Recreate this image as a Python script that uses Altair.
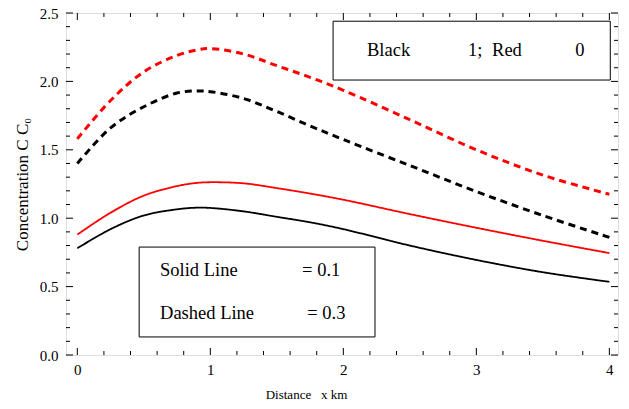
import altair as alt
import pandas as pd

# ---- data ----
x_vals = [0, 0.25, 0.5, 0.75, 0.9, 1.0, 1.25, 1.5, 1.75, 2.0, 2.5, 3.0, 3.5, 4.0]
red_dashed = [1.58, 1.86, 2.07, 2.19, 2.23, 2.24, 2.20, 2.115, 2.03, 1.935, 1.72, 1.50, 1.315, 1.175]
black_dashed = [1.40, 1.66, 1.815, 1.915, 1.93, 1.925, 1.875, 1.78, 1.675, 1.575, 1.385, 1.195, 1.02, 0.86]
red_solid = [0.88, 1.04, 1.165, 1.235, 1.258, 1.263, 1.255, 1.22, 1.18, 1.135, 1.03, 0.93, 0.835, 0.745]
black_solid = [0.78, 0.92, 1.02, 1.065, 1.077, 1.075, 1.05, 1.01, 0.97, 0.92, 0.80, 0.695, 0.605, 0.535]

x_major = [0, 1, 2, 3, 4]
x_minor = [0.2, 0.4, 0.6, 0.8, 1.2, 1.4, 1.6, 1.8, 2.2, 2.4, 2.6, 2.8, 3.2, 3.4, 3.6, 3.8]
y_major = [0.0, 0.5, 1.0, 1.5, 2.0, 2.5]
y_minor = [0.1, 0.2, 0.3, 0.4, 0.6, 0.7, 0.8, 0.9, 1.1, 1.2, 1.3, 1.4, 1.6, 1.7, 1.8, 1.9, 2.1, 2.2, 2.3, 2.4]

series = {
    "red_dashed": (red_dashed, "red", "dashed"),
    "black_dashed": (black_dashed, "black", "dashed"),
    "red_solid": (red_solid, "red", "solid"),
    "black_solid": (black_solid, "black", "solid"),
}

rows = []
for name, (vals, col, sty) in series.items():
    for xv, yv in zip(x_vals, vals):
        rows.append({"x": xv, "y": yv, "series": name, "color": col, "style": sty})
df = pd.DataFrame(rows)

W, H = 552, 342
FONT = "Liberation Serif"
xs = alt.Scale(domain=[-0.085, 4.065], nice=False, zero=False)
ys = alt.Scale(domain=[0, 2.5], nice=False)

base_x = alt.X("x:Q", scale=xs, title="Distance\u00a0\u00a0\u00a0x km",
               axis=alt.Axis(values=x_major, format="d", ticks=False, domain=False, grid=False,
                             labelFont=FONT, labelFontSize=15, labelColor="black", labelPadding=7,
                             titleFont=FONT, titleFontSize=13, titleFontWeight="normal",
                             titleColor="black", titlePadding=11, titleX=240, titleAlign="center"))
base_y = alt.Y("y:Q", scale=ys, title="Concentration C\u00a0C₀",
               axis=alt.Axis(values=y_major, format=".1f", ticks=False, domain=False, grid=False,
                             labelFont=FONT, labelFontSize=15, labelColor="black", labelPadding=8,
                             titleFont=FONT, titleFontSize=17, titleFontWeight="normal",
                             titleColor="black", titlePadding=8))

lines = alt.Chart(df).mark_line(interpolate="catmull-rom").encode(
    x=base_x,
    y=base_y,
    detail="series:N",
    color=alt.Color("color:N", scale=None),
    strokeDash=alt.StrokeDash("style:N", scale=alt.Scale(domain=["dashed", "solid"], range=[[7, 5], [1, 0]]), legend=None),
    strokeWidth=alt.StrokeWidth("style:N", scale=alt.Scale(domain=["dashed", "solid"], range=[3, 1.8]), legend=None),
    order="x:Q",
)

def xticks(vals, length):
    d = pd.DataFrame({"t": vals})
    bot = alt.Chart(d).mark_rule(color="black", strokeWidth=1).encode(
        x=alt.X("t:Q", scale=xs), y=alt.value(H), y2=alt.value(H - length))
    top = alt.Chart(d).mark_rule(color="black", strokeWidth=1).encode(
        x=alt.X("t:Q", scale=xs), y=alt.value(0), y2=alt.value(length))
    return bot + top

def yticks(vals, length):
    d = pd.DataFrame({"t": vals})
    left = alt.Chart(d).mark_rule(color="black", strokeWidth=1).encode(
        y=alt.Y("t:Q", scale=ys), x=alt.value(0), x2=alt.value(length))
    right = alt.Chart(d).mark_rule(color="black", strokeWidth=1).encode(
        y=alt.Y("t:Q", scale=ys), x=alt.value(W), x2=alt.value(W - length))
    return left + right

ticks = xticks(x_major, 7) + xticks(x_minor, 4) + yticks(y_major, 7) + yticks(y_minor, 4)

boxes_df = pd.DataFrame({
    "x1": [1.923, 0.465], "x2": [4.007, 2.238],
    "y1": [2.01, 0.132], "y2": [2.44, 0.789],
})
boxes = alt.Chart(boxes_df).mark_rect(fill="white", stroke="black", strokeWidth=1).encode(
    x=alt.X("x1:Q", scale=xs), x2="x2:Q", y=alt.Y("y1:Q", scale=ys), y2="y2:Q")

labels_df = pd.DataFrame({
    "label": ["Black", "1;", "Red", "0", "Solid Line", "=\u00a00.1", "Dashed Line", "=\u00a00.3"],
    "lx": [2.178, 2.938, 3.118, 3.743, 0.622, 1.69, 0.622, 1.729],
    "ly": [2.23, 2.23, 2.23, 2.23, 0.621, 0.621, 0.307, 0.307],
})
labels = alt.Chart(labels_df).mark_text(align="left", baseline="middle", font=FONT,
                                        fontSize=18.5, color="black").encode(
    x=alt.X("lx:Q", scale=xs), y=alt.Y("ly:Q", scale=ys), text="label:N")

chart = alt.layer(lines, ticks, boxes, labels).properties(
    width=W, height=H,
    autosize=alt.AutoSizeParams(type="none"),
    padding={"left": 58, "top": 5, "right": 3, "bottom": 46},
).configure_view(stroke="black", strokeWidth=1.2).configure(background="white")

chart.save("out.html", embed_options={"renderer": "svg", "actions": False})
